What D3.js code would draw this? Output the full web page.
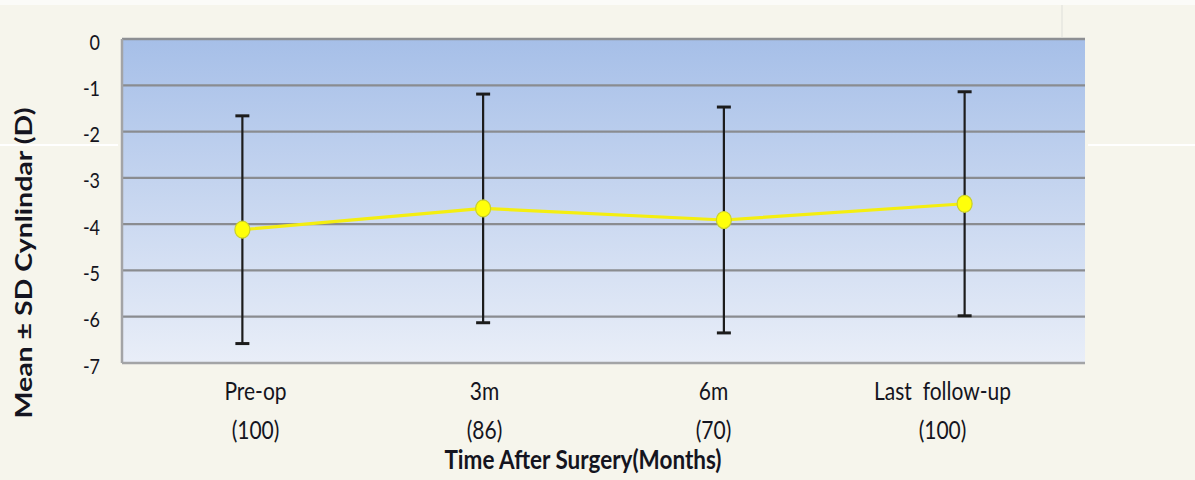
<!DOCTYPE html>
<html>
<head>
<meta charset="utf-8">
<script src="https://cdn.jsdelivr.net/npm/d3@7/dist/d3.min.js"></script>
<style>
  html, body { margin: 0; padding: 0; background: #f6f5ec; }
  svg { display: block; }
  text { font-family: Lato, "Open Sans", sans-serif; fill: #141420; }
</style>
</head>
<body>
<svg id="chart" width="1195" height="480"></svg>
<script>
// Follow-up time points and group sizes
const categories = ["Pre-op", "3m", "6m", "Last follow-up"];
const groupSizes = ["(100)", "(86)", "(70)", "(100)"];
// Mean cylinder (D) and standard deviation at each time point
const means = [-4.12, -3.66, -3.91, -3.56];
const sds = [2.46, 2.47, 2.44, 2.42];
const yTicks = [0, -1, -2, -3, -4, -5, -6, -7];

const W = 1195, H = 480;
const plot = { left: 122, right: 1085, top: 39, bottom: 363 };
const stretch = 1.22; // text is drawn slightly tall

const svg = d3.select("#chart");

// background strip and faint seams
svg.append("rect").attr("x", 0).attr("y", 0).attr("width", W).attr("height", H).attr("fill", "#f6f5ec");
svg.append("rect").attr("x", 0).attr("y", 0).attr("width", W).attr("height", 5).attr("fill", "#fbfbf8");
svg.append("line").attr("x1", 0).attr("x2", 118).attr("y1", 145).attr("y2", 145)
  .attr("stroke", "#ffffff").attr("stroke-width", 2);
svg.append("line").attr("x1", 1088).attr("x2", W).attr("y1", 145).attr("y2", 145)
  .attr("stroke", "#ffffff").attr("stroke-width", 2);
svg.append("line").attr("x1", 1062).attr("x2", 1062).attr("y1", 5).attr("y2", 37)
  .attr("stroke", "#e6e6e0").attr("stroke-width", 1.5);

const x = d3.scalePoint().domain(categories).range([plot.left, plot.right]).padding(0.5);
// category labels sit on their own axis row
const xLabel = d3.scalePoint().domain(categories).range([255, 942]);
const y = d3.scaleLinear().domain([-7, 0]).range([plot.bottom, plot.top]);

// plot area gradient
const defs = svg.append("defs");
const grad = defs.append("linearGradient").attr("id", "plotBg")
  .attr("x1", 0).attr("y1", 0).attr("x2", 0).attr("y2", 1);
grad.append("stop").attr("offset", "0%").attr("stop-color", "#a6bfe8");
grad.append("stop").attr("offset", "100%").attr("stop-color", "#e9eef8");

svg.append("rect")
  .attr("x", plot.left).attr("y", plot.top)
  .attr("width", plot.right - plot.left).attr("height", plot.bottom - plot.top)
  .attr("fill", "url(#plotBg)");

// gridlines
svg.append("g").selectAll("line").data(yTicks.filter(d => d > -7 && d < 0)).join("line")
  .attr("x1", plot.left).attr("x2", plot.right)
  .attr("y1", d => y(d)).attr("y2", d => y(d))
  .attr("stroke", "#8a8c90").attr("stroke-width", 2.2);

// frame
svg.append("line").attr("x1", plot.left).attr("x2", plot.right).attr("y1", plot.top).attr("y2", plot.top)
  .attr("stroke", "#8d8f93").attr("stroke-width", 2.5);
svg.append("line").attr("x1", plot.left).attr("x2", plot.right).attr("y1", plot.bottom).attr("y2", plot.bottom)
  .attr("stroke", "#a3a4a6").attr("stroke-width", 2.5);
svg.append("line").attr("x1", plot.left).attr("x2", plot.left).attr("y1", plot.top).attr("y2", plot.bottom)
  .attr("stroke", "#a3a4a6").attr("stroke-width", 2.5);

// y axis (plain hyphen for negatives)
const yAxis = d3.axisLeft(y).tickValues(yTicks).tickSize(0).tickPadding(0).tickFormat(d => String(d));
const gy = svg.append("g").attr("transform", "translate(100,0)").call(yAxis);
gy.select(".domain").remove();
gy.selectAll(".tick text")
  .attr("x", 0).attr("y", 0).attr("dy", null)
  .attr("transform", `translate(0,10) scale(1,${stretch})`)
  .attr("font-size", 18).attr("fill", "#141420")
  .style("font-family", "Lato, sans-serif");

// x axis labels (two lines: time point and n)
const xAxis = d3.axisBottom(xLabel).tickSize(0).tickFormat(() => "");
const gx = svg.append("g").attr("transform", `translate(0,${plot.bottom})`).call(xAxis);
gx.select(".domain").remove();
gx.selectAll(".tick").each(function (d, i) {
  const t = d3.select(this);
  t.select("text").remove();
  t.append("text").attr("text-anchor", "middle")
    .attr("transform", `translate(0,37) scale(1,${stretch})`)
    .attr("font-size", 21).attr("fill", "#141420")
    .attr("xml:space", "preserve")
    .text(d === "Last follow-up" ? "Last  follow-up" : d);
  t.append("text").attr("text-anchor", "middle")
    .attr("transform", `translate(0,76) scale(1,${stretch})`)
    .attr("font-size", 21).attr("fill", "#141420")
    .text(groupSizes[i]);
});

// axis titles
svg.append("text").attr("transform", `translate(583,469) scale(1,${stretch})`).attr("text-anchor", "middle")
  .attr("font-size", 22.5).attr("font-weight", "bold")
  .text("Time After Surgery(Months)");
svg.append("text").attr("transform", "translate(32,263) rotate(-90) scale(1.24,1)").attr("text-anchor", "middle")
  .attr("font-size", 23).attr("font-weight", "bold")
  .text("Mean ± SD Cynlindar (D)");

// error bars
const capW = 7;
const eb = svg.append("g").attr("stroke", "#1c1c1c");
categories.forEach((c, i) => {
  const cx = x(c), hi = y(means[i] + sds[i]), lo = y(means[i] - sds[i]);
  eb.append("line").attr("x1", cx).attr("x2", cx).attr("y1", hi).attr("y2", lo).attr("stroke-width", 2.2);
  eb.append("line").attr("x1", cx - capW).attr("x2", cx + capW).attr("y1", hi).attr("y2", hi).attr("stroke-width", 3);
  eb.append("line").attr("x1", cx - capW).attr("x2", cx + capW).attr("y1", lo).attr("y2", lo).attr("stroke-width", 3);
});

// mean line and markers
const pts = categories.map((c, i) => [x(c), y(means[i])]);
svg.append("path").attr("d", d3.line()(pts))
  .attr("fill", "none").attr("stroke", "#f4ee10").attr("stroke-width", 3.2);
svg.append("g").selectAll("ellipse").data(pts).join("ellipse")
  .attr("cx", d => d[0]).attr("cy", d => d[1]).attr("rx", 7.5).attr("ry", 8.5)
  .attr("fill", "#ffff0a").attr("stroke", "#c9cf2a").attr("stroke-width", 1.2);
</script>
</body>
</html>
